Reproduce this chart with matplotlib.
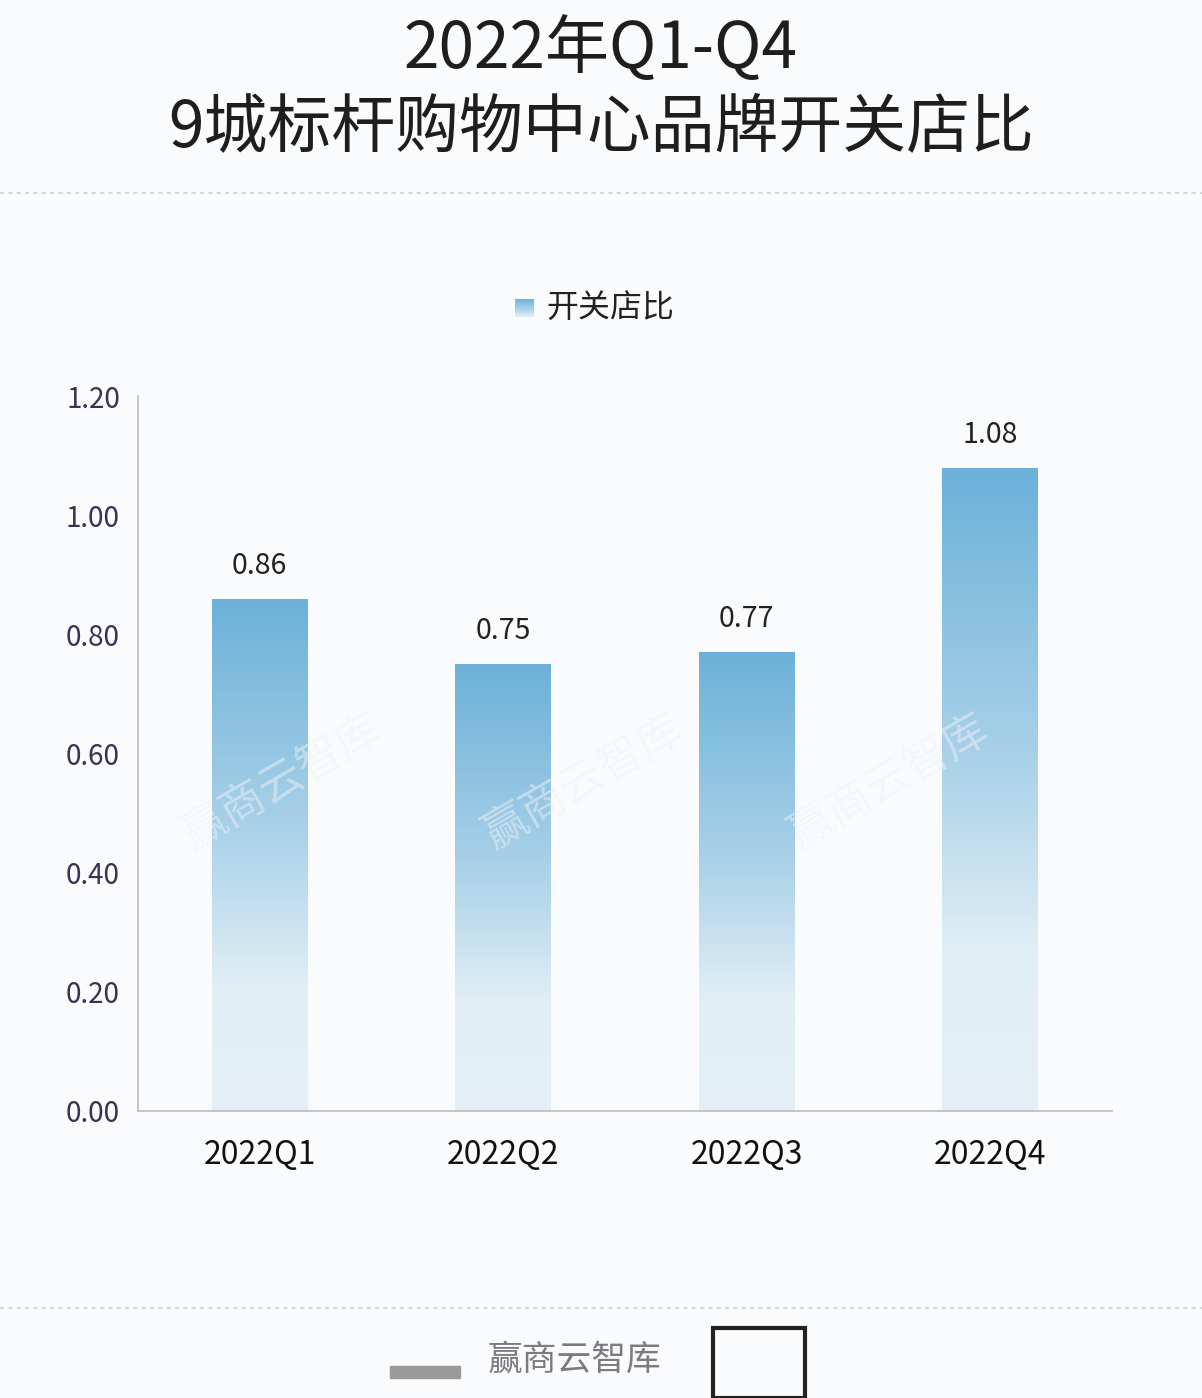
import matplotlib.pyplot as plt
import numpy as np
from matplotlib.colors import LinearSegmentedColormap
from matplotlib.lines import Line2D
from matplotlib.patches import Rectangle

plt.rcParams['font.family'] = ['Noto Sans CJK SC', 'DejaVu Sans']

# Data
quarters = ['2022Q1', '2022Q2', '2022Q3', '2022Q4']
ratio = [0.86, 0.75, 0.77, 1.08]
yticks = [0.0, 0.2, 0.4, 0.6, 0.8, 1.0, 1.2]

bg = '#f9fbfd'
fig = plt.figure(figsize=(12.02, 13.98), dpi=100, facecolor=bg)
ax = fig.add_axes([0.1148, 0.2053, 0.8103, 0.5114])
ax.set_facecolor(bg)

# Title
fig.text(0.5, 1 - 50 / 1398, '2022年Q1-Q4', ha='center', va='center',
         fontsize=46, weight='medium', color='#1e1e1e')
fig.text(0.5, 1 - 128 / 1398, '9城标杆购物中心品牌开关店比', ha='center', va='center',
         fontsize=46, weight='medium', color='#1e1e1e')

# dashed separators
for yy in [1 - 193 / 1398, 1 - 1308 / 1398]:
    fig.add_artist(Line2D([0, 1], [yy, yy], transform=fig.transFigure,
                          color='#d3d8de', lw=1.5, ls=(0, (2, 2))))

# gradient bars
cmap = LinearSegmentedColormap.from_list(
    'bar', [(0.0, '#e4f0f5'), (0.25, '#e0eef5'), (0.55, '#a9d1e8'), (1.0, '#6cb1d9')])
width = 0.394
x = np.arange(len(quarters))
grad = np.linspace(0, 1, 256).reshape(-1, 1)
for xi, v in zip(x, ratio):
    rect = Rectangle((xi - width / 2, 0), width, v, facecolor='none', edgecolor='none')
    ax.add_patch(rect)
    im = ax.imshow(grad, cmap=cmap, origin='lower', aspect='auto',
                   extent=[xi - width / 2, xi + width / 2, 0, v], zorder=2)
    im.set_clip_path(rect)
    ax.text(xi, v + 0.03, f'{v:.2f}', ha='center', va='bottom',
            fontsize=20.5, color='#222222')

ax.set_xlim(-0.5, 3.5)
ax.set_ylim(0, 1.2)
ax.set_xticks(x)
ax.set_xticklabels(quarters, fontsize=23, weight='medium', color='#111111')
ax.set_yticks(yticks)
ax.set_yticklabels([f'{t:.2f}' for t in yticks], fontsize=20, color='#3d3153')
ax.tick_params(length=0)
ax.tick_params(axis='y', pad=13)
ax.tick_params(axis='x', pad=20)
for s in ['top', 'right']:
    ax.spines[s].set_visible(False)
for s in ['left', 'bottom']:
    ax.spines[s].set_color('#bdb8c8')
    ax.spines[s].set_linewidth(1.2)

# legend
lx, ly = 524 / 1202, 1 - 308 / 1398
leg_ax = fig.add_axes([lx - 0.0075, ly - 0.0065, 0.015, 0.013])
leg_ax.imshow(grad[::-1], cmap=cmap, aspect='auto', vmin=-0.3, vmax=1)
leg_ax.axis('off')
fig.text(546 / 1202, ly, '开关店比', ha='left', va='center', fontsize=23, color='#222222')

# watermarks
for wx in [0.235, 0.485, 0.74]:
    fig.text(wx, 0.44, '赢商云智库', rotation=30, ha='center', va='center',
             fontsize=32, color='#f0f2f5', alpha=0.5, zorder=5)

# footer
fig.text(575 / 1202, 1 - 1360 / 1398, '赢商云智库', ha='center', va='center',
         fontsize=25, color='#7d7a82')
fig.add_artist(Rectangle((390 / 1202, 1 - 1378 / 1398), 70 / 1202, 12 / 1398,
                         transform=fig.transFigure, color='#9a9a9a'))
fig.add_artist(Rectangle((713 / 1202, 0), 92 / 1202, 70 / 1398,
                         transform=fig.transFigure, facecolor='none',
                         edgecolor='#222222', lw=3))

fig.savefig('out.png', dpi=100, facecolor=bg)
